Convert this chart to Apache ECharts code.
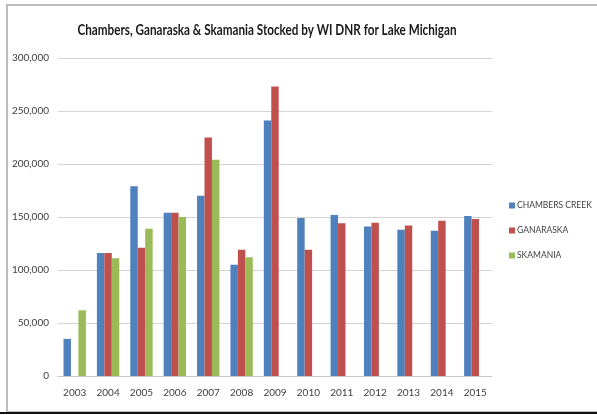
<!DOCTYPE html>
<html>
<head>
<meta charset="utf-8">
<script src="https://cdn.jsdelivr.net/npm/echarts@6/dist/echarts.min.js"></script>
<style>
  html, body { margin: 0; padding: 0; background: #fff; }
  #wrap { position: relative; width: 597px; height: 415px; overflow: hidden; }
  #frame {
    position: absolute; left: 6px; top: 4px; width: 600px; height: 405px;
    border-left: 2px solid #bdbdbd; border-top: 2px solid #bdbdbd; border-bottom: 2px solid #bdbdbd;
  }
  #rule { position: absolute; left: 0; top: 412px; width: 597px; height: 2px; background: #111; }
  #chart { position: absolute; left: 0; top: 0; width: 597px; height: 415px; }
</style>
</head>
<body>
<div id="wrap">
  <div id="frame"></div>
  <div id="rule"></div>
  <div id="chart"></div>
</div>
<script>
const years = ['2003', '2004', '2005', '2006', '2007', '2008', '2009', '2010', '2011', '2012', '2013', '2014', '2015']
const chambersCreek = [35000, 116000, 179000, 154000, 170000, 105000, 241000, 149000, 152000, 141000, 138000, 137000, 151000]
const ganaraska = [null, 116000, 121000, 154000, 225000, 119000, 273000, 119000, 144000, 144500, 142000, 146500, 148000]
const skamania = [62000, 111000, 139000, 150000, 204000, 112000, null, null, null, null, null, null, null]

const font = "Lato, sans-serif"
const textColor = '#404040'

const chart = echarts.init(document.getElementById('chart'), null, { renderer: 'canvas' })

chart.setOption({
  animation: false,
  textStyle: { fontFamily: font },
  graphic: [{
    // narrow bold title, squeezed to match the original's condensed face
    type: 'text',
    x: 267,
    y: 30,
    scaleX: 0.78,
    style: {
      text: 'Chambers, Ganaraska & Skamania Stocked by WI DNR for Lake Michigan',
      align: 'center',
      verticalAlign: 'middle',
      font: 'bold 15px ' + font,
      fill: '#1a1a1a'
    }
  }],
  legend: {
    orient: 'vertical',
    left: 504,
    top: 196,
    icon: 'rect',
    itemWidth: 6,
    itemHeight: 6,
    itemGap: 16,
    textStyle: { fontFamily: font, fontSize: 8.5, color: textColor, padding: [0, 0, 0, -3] },
    data: ['CHAMBERS CREEK', 'GANARASKA', 'SKAMANIA']
  },
  grid: { left: 58, right: 105, top: 58, bottom: 39, containLabel: false },
  xAxis: {
    type: 'category',
    data: years,
    axisLine: { lineStyle: { color: '#c8c8c8', width: 1 } },
    axisTick: { show: false },
    axisLabel: { fontFamily: font, fontSize: 10, color: textColor, margin: 12 }
  },
  yAxis: {
    type: 'value',
    min: 0,
    max: 300000,
    interval: 50000,
    axisLine: { show: false },
    axisTick: { show: false },
    splitLine: { lineStyle: { color: '#d4d4d4', width: 1 } },
    axisLabel: {
      fontFamily: font, fontSize: 10, color: textColor, margin: 9,
      formatter: v => v.toLocaleString('en-US')
    }
  },
  series: [
    { name: 'CHAMBERS CREEK', type: 'bar', data: chambersCreek, itemStyle: { color: '#4F81BD' }, barGap: '0%', barCategoryGap: '33%' },
    { name: 'GANARASKA', type: 'bar', data: ganaraska, itemStyle: { color: '#C0504D' }, barGap: '0%', barCategoryGap: '33%' },
    { name: 'SKAMANIA', type: 'bar', data: skamania, itemStyle: { color: '#9BBB59' }, barGap: '0%', barCategoryGap: '33%' }
  ]
})
</script>
</body>
</html>
